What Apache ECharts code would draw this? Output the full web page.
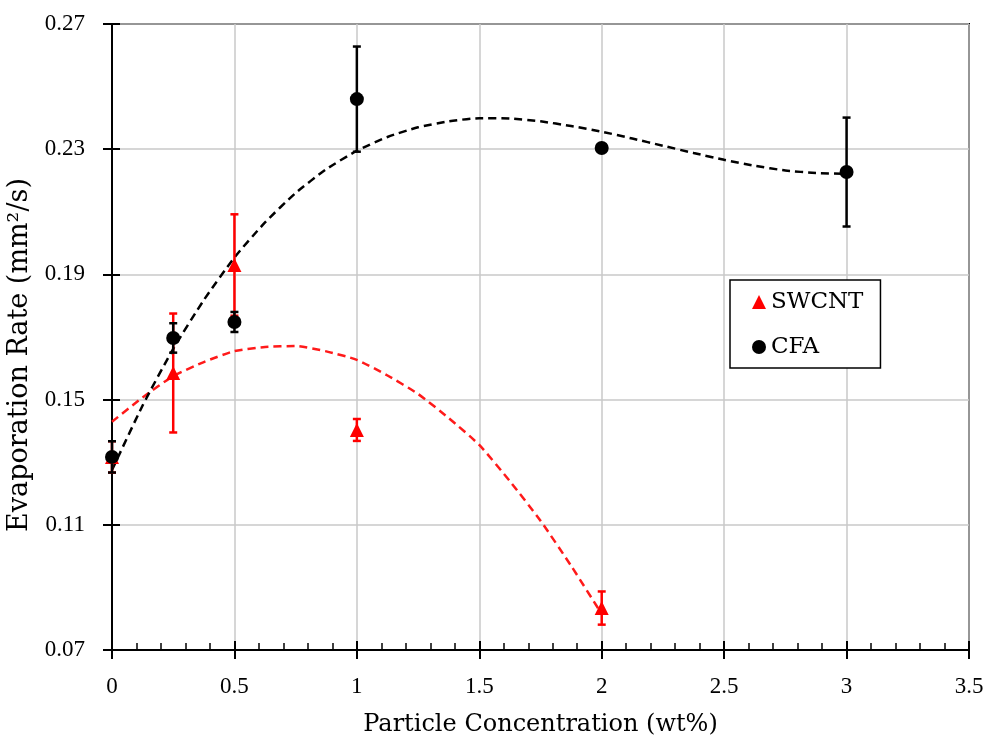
<!DOCTYPE html>
<html>
<head>
<meta charset="utf-8">
<script src="https://cdn.jsdelivr.net/npm/echarts@6/dist/echarts.min.js"></script>
<style>html,body{margin:0;padding:0;background:#fff}#c{width:985px;height:739px}</style>
</head>
<body>
<div id="c"></div>
<script>
// ---- data ----
const cfaX    = [0, 0.25, 0.5, 1, 2, 3];
const cfaY    = [0.1317, 0.1697, 0.1748, 0.2460, 0.2304, 0.2227];
const cfaErr  = [0.0050, 0.0047, 0.0032, 0.0168, 0.0000, 0.0174];

const swX     = [0, 0.25, 0.5, 1, 2];
const swY     = [0.1317, 0.1585, 0.1930, 0.1403, 0.0834];
const swErr   = [0.0050, 0.0190, 0.0162, 0.0035, 0.0053];

// trendlines
const cfaTrendX = [0, 0.125, 0.25, 0.375, 0.5, 0.625, 0.75, 0.875, 1, 1.125, 1.25, 1.375, 1.5, 1.625, 1.75, 1.875, 2, 2.125, 2.25, 2.375, 2.5, 2.625, 2.75, 2.875, 3];
const cfaTrendY = [0.1275, 0.1481, 0.1662, 0.1818, 0.1954, 0.2066, 0.2160, 0.2236, 0.2295, 0.2339, 0.2370, 0.2389, 0.2399, 0.2398, 0.2389, 0.2374, 0.2356, 0.2334, 0.2311, 0.2288, 0.2266, 0.2247, 0.2232, 0.2224, 0.2221];
const swTrendX  = [0, 0.125, 0.25, 0.375, 0.5, 0.625, 0.75, 0.875, 1, 1.125, 1.25, 1.375, 1.5, 1.625, 1.75, 1.875, 2];
const swTrendY  = [0.1429, 0.1507, 0.1575, 0.1620, 0.1655, 0.1668, 0.1671, 0.1654, 0.1627, 0.1577, 0.1518, 0.1441, 0.1355, 0.1239, 0.1113, 0.0969, 0.0815];

const xTicks = [0, 0.5, 1, 1.5, 2, 2.5, 3, 3.5];
const yTicks = [0.07, 0.11, 0.15, 0.19, 0.23, 0.27];
const xTickLabels = ['0', '0.5', '1', '1.5', '2', '2.5', '3', '3.5'];
const yTickLabels = ['0.07', '0.11', '0.15', '0.19', '0.23', '0.27'];

const FONT = 'DejaVu Serif';
const TICKFONT = 'Liberation Serif';
const zip = (a, b) => a.map((v, i) => [v, b[i]]);
const zip3 = (a, b, c) => a.map((v, i) => [v, b[i], c[i]]);
const lookup = (ticks, labels) => v => {
  for (let i = 0; i < ticks.length; i++) if (Math.abs(ticks[i] - v) < 1e-6) return labels[i];
  return '';
};

function errRender(color) {
  return function (params, api) {
    const x = api.value(0), y = api.value(1), e = api.value(2);
    if (!e) return null;
    const t = api.coord([x, y + e]);
    const b = api.coord([x, y - e]);
    const w = 4;
    const st = { stroke: color, lineWidth: 2.5 };
    return {
      type: 'group',
      children: [
        { type: 'line', shape: { x1: t[0], y1: t[1], x2: b[0], y2: b[1] }, style: st },
        { type: 'line', shape: { x1: t[0] - w, y1: t[1], x2: t[0] + w, y2: t[1] }, style: st },
        { type: 'line', shape: { x1: b[0] - w, y1: b[1], x2: b[0] + w, y2: b[1] }, style: st }
      ]
    };
  };
}

const xBase = { type: 'value', min: 0, max: 3.5, interval: 0.5 };
const yBase = { type: 'value', min: 0.07, max: 0.27, interval: 0.04 };

const chart = echarts.init(document.getElementById('c'), null, { renderer: 'canvas' });
chart.setOption({
  animation: false,
  backgroundColor: '#fff',
  textStyle: { fontFamily: FONT, color: '#000' },
  grid: { left: 112, right: 16, top: 24, bottom: 89, containLabel: false, outerBoundsMode: 'none',
          show: true, borderColor: '#000', borderWidth: 2, backgroundColor: 'transparent' },
  legend: {
    orient: 'vertical', left: 730, top: 280,
    padding: [10, 17, 9, 22],
    itemGap: 21, itemWidth: 14, itemHeight: 14,
    borderColor: '#000', borderWidth: 1.5, backgroundColor: '#fff',
    textStyle: { fontFamily: FONT, fontSize: 23, color: '#000', lineHeight: 24 },
    data: ['SWCNT', 'CFA']
  },
  xAxis: [
    Object.assign({}, xBase, {
      name: 'Particle Concentration (wt%)', nameLocation: 'middle', nameGap: 63,
      nameTextStyle: { fontFamily: FONT, fontSize: 24, color: '#000' },
      axisLine: { show: true, onZero: false, lineStyle: { color: '#000', width: 2 } },
      axisTick: { show: true, inside: false, length: 9, lineStyle: { color: '#000', width: 2 } },
      axisLabel: { margin: 25, fontFamily: TICKFONT, fontSize: 23, color: '#000', formatter: lookup(xTicks, xTickLabels) },
      splitLine: { show: true, lineStyle: { color: '#c8c8c8', width: 1.5 } }
    }),
    Object.assign({}, xBase, {
      position: 'bottom',
      axisLine: { show: false },
      axisTick: { show: true, inside: true, length: 9, lineStyle: { color: '#000', width: 2 } },
      minorTick: { show: true, splitNumber: 5, length: 7, lineStyle: { color: '#000', width: 1.5 } },
      axisLabel: { show: false },
      splitLine: { show: false }
    })
  ],
  yAxis: [
    Object.assign({}, yBase, {
      name: 'Evaporation Rate (mm²/s)', nameLocation: 'middle', nameGap: 56,
      nameTextStyle: { fontFamily: FONT, fontSize: 27, color: '#000', padding: [0, 36, 0, 0] },
      axisLine: { show: true, onZero: false, lineStyle: { color: '#000', width: 2 } },
      axisTick: { show: true, inside: false, length: 9, lineStyle: { color: '#000', width: 2 } },
      axisLabel: { margin: 27, fontFamily: TICKFONT, fontSize: 23, color: '#000', formatter: lookup(yTicks, yTickLabels) },
      splitLine: { show: true, lineStyle: { color: '#c8c8c8', width: 1.5 } }
    }),
    Object.assign({}, yBase, {
      position: 'left',
      axisLine: { show: false },
      axisTick: { show: true, inside: true, length: 8, lineStyle: { color: '#000', width: 2 } },
      axisLabel: { show: false },
      splitLine: { show: false }
    })
  ],
  series: [
    {
      name: 'SWCNT trend', type: 'line', smooth: 0.2, showSymbol: false, silent: true,
      data: zip(swTrendX, swTrendY), z: 2,
      lineStyle: { color: '#ff1a1a', width: 2.5, type: [8, 5] }
    },
    {
      name: 'CFA trend', type: 'line', smooth: 0.2, showSymbol: false, silent: true,
      data: zip(cfaTrendX, cfaTrendY), z: 2,
      lineStyle: { color: '#000', width: 2.5, type: [8, 5] }
    },
    {
      name: 'SWCNT err', type: 'custom', renderItem: errRender('#ff0000'),
      data: zip3(swX, swY, swErr), encode: { x: 0, y: 1 }, z: 3, silent: true
    },
    {
      name: 'CFA err', type: 'custom', renderItem: errRender('#000'),
      data: zip3(cfaX, cfaY, cfaErr), encode: { x: 0, y: 1 }, z: 3, silent: true
    },
    {
      name: 'SWCNT', type: 'scatter', symbol: 'triangle', symbolSize: 14,
      data: zip(swX, swY), z: 4,
      itemStyle: { color: '#ff0000', opacity: 1 }
    },
    {
      name: 'CFA', type: 'scatter', symbol: 'circle', symbolSize: 14,
      data: zip(cfaX, cfaY), z: 5,
      itemStyle: { color: '#000', opacity: 1 }
    }
  ]
});
</script>
</body>
</html>
